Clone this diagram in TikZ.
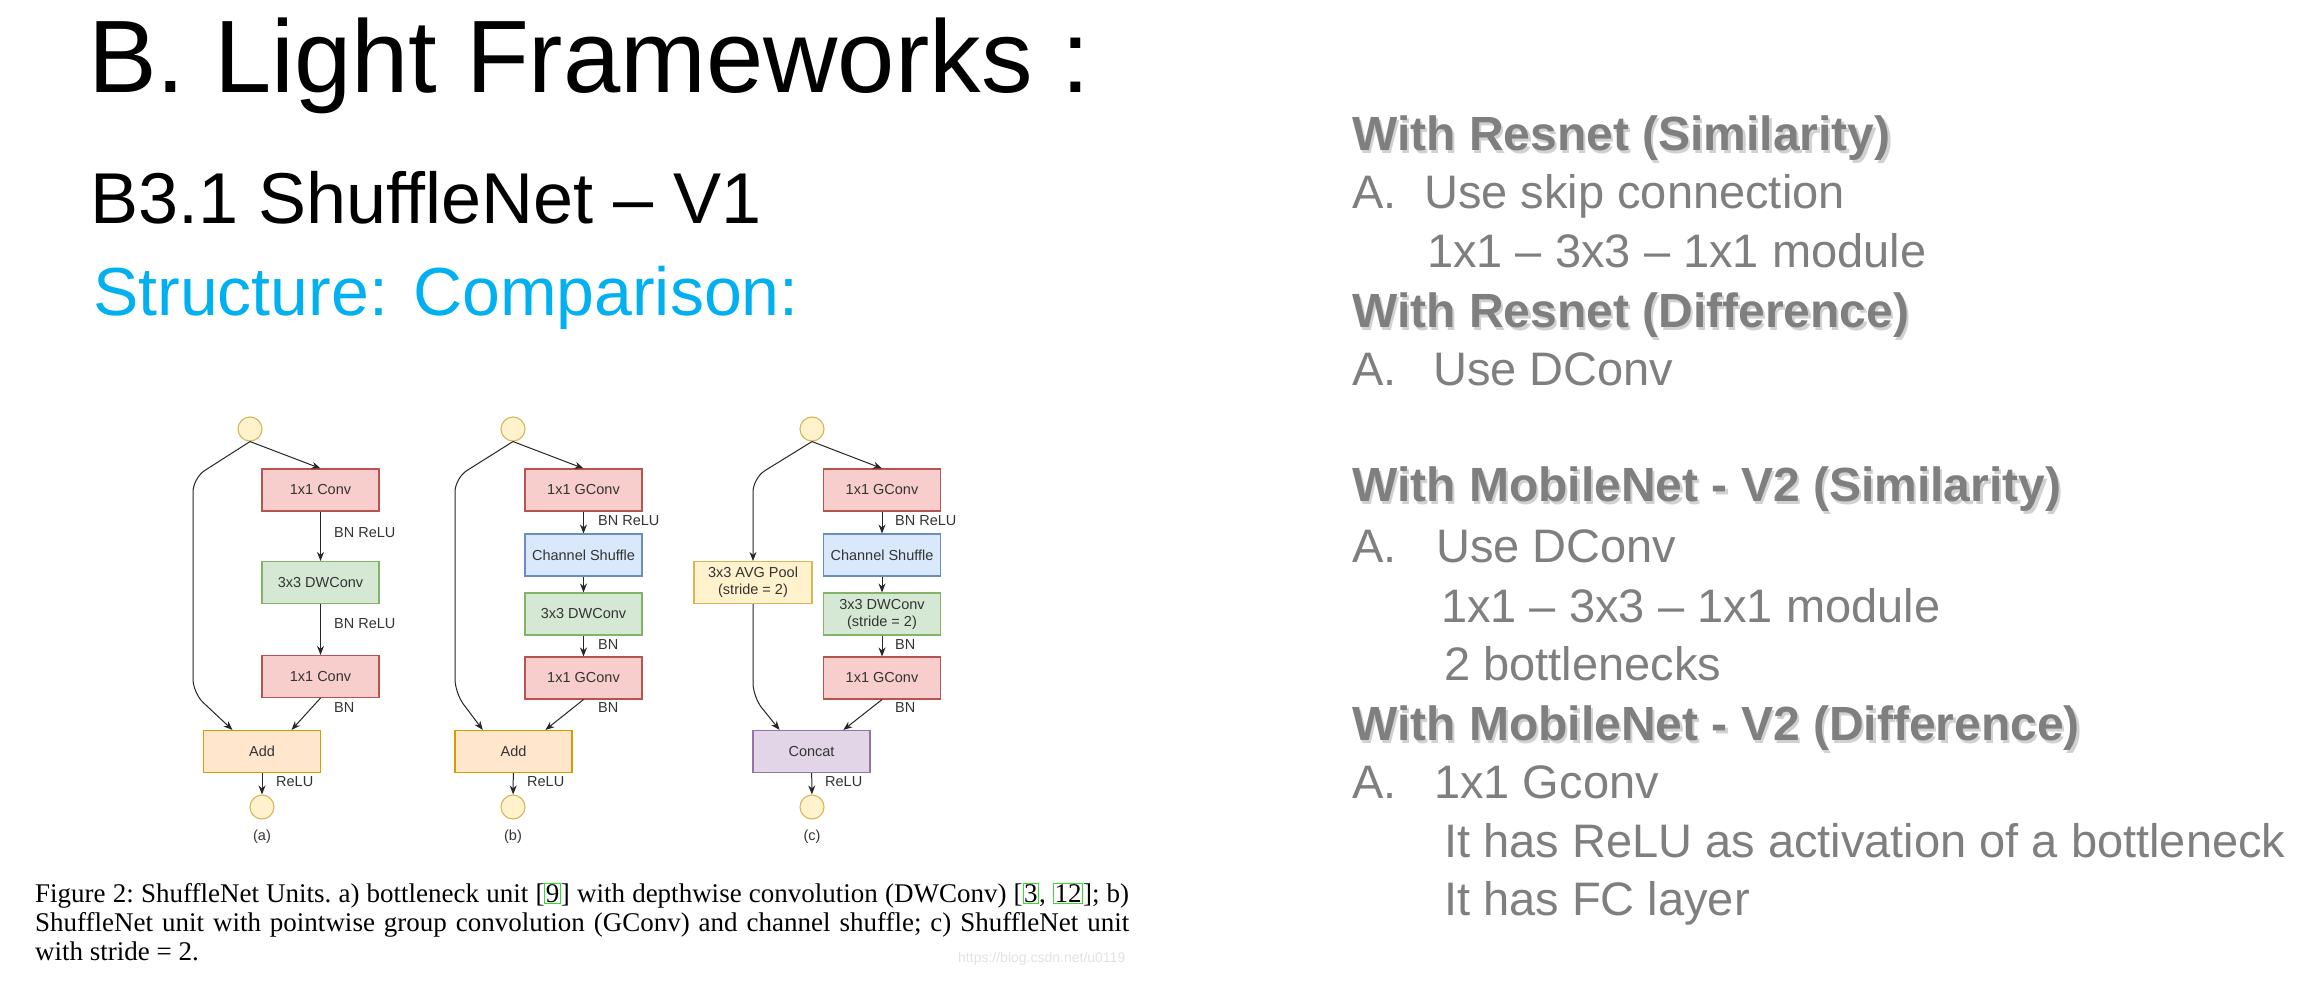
\documentclass[tikz,border=0pt]{standalone}
\usepackage{fontspec}
\usepackage{xcolor}
\usetikzlibrary{arrows.meta,calc}
\setmainfont{Liberation Sans}
\newfontfamily\capserif{Liberation Serif}
\newcommand\fsz[1]{\fontsize{#1}{#1}\selectfont}

\definecolor{cyanT}{HTML}{00B0F0}
\definecolor{greyT}{HTML}{7F7F7F}
\definecolor{txt}{HTML}{333333}
\definecolor{redF}{HTML}{F8CECC}\definecolor{redD}{HTML}{B85450}
\definecolor{grnF}{HTML}{D5E8D4}\definecolor{grnD}{HTML}{82B366}
\definecolor{bluF}{HTML}{DAE8FC}\definecolor{bluD}{HTML}{6C8EBF}
\definecolor{orgF}{HTML}{FFE6CC}\definecolor{orgD}{HTML}{D79B00}
\definecolor{yelF}{HTML}{FFF2CC}\definecolor{yelD}{HTML}{D6B656}
\definecolor{purF}{HTML}{E1D5E7}\definecolor{purD}{HTML}{9673A6}
\definecolor{citeG}{HTML}{33DD33}

% green frame round a citation number
\newcommand\citebox[1]{{\setlength\fboxsep{0.5pt}\setlength\fboxrule{1pt}\fcolorbox{citeG}{white}{#1}}}

\tikzset{
  unitbox/.style={draw, line width=1.1pt, minimum width=117pt, minimum height=42pt,
    inner sep=0pt, font=\fontsize{14.5}{17}\selectfont, text=txt, align=center},
  redbox/.style={unitbox, fill=redF, draw=redD},
  grnbox/.style={unitbox, fill=grnF, draw=grnD},
  blubox/.style={unitbox, fill=bluF, draw=bluD},
  orgbox/.style={unitbox, fill=orgF, draw=orgD},
  yelbox/.style={unitbox, fill=yelF, draw=yelD},
  purbox/.style={unitbox, fill=purF, draw=purD},
  io/.style={circle, draw=yelD, fill=yelF, line width=1.1pt, minimum size=24pt, inner sep=0pt},
  arr/.style={draw=black!85, line width=1pt, -{Stealth[length=9pt,width=7pt]}},
  lbl/.style={anchor=west, font=\fsz{14.5}, text=txt, inner sep=0pt},
  sub/.style={font=\fsz{14.5}, text=txt, inner sep=0pt},
  title/.style={anchor=base west, inner sep=0pt},
  body/.style={anchor=base west, inner sep=0pt, text=greyT, font=\fsz{47}},
  headtxt/.style={anchor=base west, inner sep=0pt, text=greyT, font=\bfseries\fsz{48}},
  headshadow/.style={anchor=base west, inner sep=0pt, text=gray!80, opacity=0.45, font=\bfseries\fsz{48}},
  capline/.style={anchor=base west, inner sep=0pt, font=\capserif\fsz{27}\frenchspacing},
}

% bold grey heading with a soft drop shadow
\newcommand\drawhead[4]{%
  \node[headshadow] at (#2+2.5,#3+3) {#4};
  \node[headtxt] (#1) at (#2,#3) {#4};}

\begin{document}
\begin{tikzpicture}[x=1pt,y=-1pt]
\useasboundingbox[fill=white] (0,0) rectangle (2319,985);

% ---------- titles ----------
\node[title, font=\fsz{103}] (t1) at (88,92) {B. Light Frameworks :};
\node[title, font=\fsz{72}] (t2) at (90,223) {B3.1 ShuffleNet -- V1};
\node[title, font=\fsz{68}, text=cyanT] (t3) at (93,315) {Structure: Comparison:};

% ---------- unit (a) ----------
\node[io] (a-in) at (250,429) {};
\node[redbox] (a-c1) at (320.5,490) {1x1 Conv};
\node[grnbox] (a-dw) at (320.5,582.5) {3x3 DWConv};
\node[redbox] (a-c2) at (320.5,676.5) {1x1 Conv};
\node[orgbox] (a-add) at (262,751.5) {Add};
\node[io] (a-out) at (262,807) {};
\node[sub] (a-cap) at (262,837) {(a)};
\coordinate (a-s1) at (193,478);
\coordinate (a-s2) at (193,693);
\draw[arr] (a-in.south) -- (a-c1.north);
\draw[arr] (a-c1) -- (a-dw);
\draw[arr] (a-dw) -- (a-c2);
\draw[arr] (a-c2.south) -- ($(a-add.north west)!0.75!(a-add.north east)$);
\draw[arr, rounded corners=14pt] (a-in.south) -- (a-s1) -- (a-s2) -- ($(a-add.north west)!0.25!(a-add.north east)$);
\draw[arr] (a-add) -- (a-out);
\node[lbl] at (334,533) {BN ReLU};
\node[lbl] at (334,624) {BN ReLU};
\node[lbl] at (334,708) {BN};
\node[lbl] at (276,782) {ReLU};

% ---------- unit (b) ----------
\node[io] (b-in) at (513,429) {};
\node[redbox] (b-g1) at (583.5,490) {1x1 GConv};
\node[blubox] (b-sh) at (583.5,555) {Channel Shuffle};
\node[grnbox] (b-dw) at (583.5,614) {3x3 DWConv};
\node[redbox] (b-g2) at (583.5,678) {1x1 GConv};
\node[orgbox] (b-add) at (513.5,751.5) {Add};
\node[io] (b-out) at (513,807) {};
\node[sub] (b-cap) at (513,837) {(b)};
\coordinate (b-s1) at (455,478);
\coordinate (b-s2) at (455,693);
\draw[arr] (b-in.south) -- (b-g1.north);
\draw[arr] (b-g1) -- (b-sh);
\draw[arr] (b-sh) -- (b-dw);
\draw[arr] (b-dw) -- (b-g2);
\draw[arr] (b-g2.south) -- ($(b-add.north west)!0.77!(b-add.north east)$);
\draw[arr, rounded corners=14pt] (b-in.south) -- (b-s1) -- (b-s2) -- ($(b-add.north west)!0.24!(b-add.north east)$);
\draw[arr] (b-add) -- (b-out);
\node[lbl] at (598,521) {BN ReLU};
\node[lbl] at (598,645) {BN};
\node[lbl] at (598,708) {BN};
\node[lbl] at (527,782) {ReLU};

% ---------- unit (c) ----------
\node[io] (c-in) at (812,429) {};
\node[redbox] (c-g1) at (882,490) {1x1 GConv};
\node[blubox] (c-sh) at (882,555) {Channel Shuffle};
\node[grnbox] (c-dw) at (882,614) {3x3 DWConv\\(stride = 2)};
\node[redbox] (c-g2) at (882,678) {1x1 GConv};
\node[yelbox, minimum width=118pt] (c-pool) at (753,582.5) {3x3 AVG Pool\\(stride = 2)};
\node[purbox] (c-cat) at (811.5,751.5) {Concat};
\node[io] (c-out) at (812,807) {};
\node[sub] (c-cap) at (812,837) {(c)};
\coordinate (c-s1) at (753,478);
\coordinate (c-s2) at (753,697);
\draw[arr] (c-in.south) -- (c-g1.north);
\draw[arr] (c-g1) -- (c-sh);
\draw[arr] (c-sh) -- (c-dw);
\draw[arr] (c-dw) -- (c-g2);
\draw[arr] (c-g2.south) -- ($(c-cat.north west)!0.77!(c-cat.north east)$);
\draw[arr, rounded corners=14pt] (c-in.south) -- (c-s1) -- (c-pool.north);
\draw[arr, rounded corners=14pt] (c-pool.south) -- (c-s2) -- ($(c-cat.north west)!0.23!(c-cat.north east)$);
\draw[arr] (c-cat) -- (c-out);
\node[lbl] at (895,521) {BN ReLU};
\node[lbl] at (895,645) {BN};
\node[lbl] at (895,708) {BN};
\node[lbl] at (825,782) {ReLU};

% ---------- figure caption ----------
\node[capline] (cap1) at (35,902) {\makebox[1094pt][s]{Figure 2: ShuffleNet Units. a) bottleneck unit [\citebox{9}] with depthwise convolution (DWConv) [\citebox{3}, \citebox{12}]; b)}};
\node[capline] (cap2) at (35,931) {\makebox[1094pt][s]{ShuffleNet unit with pointwise group convolution (GConv) and channel shuffle; c) ShuffleNet unit}};
\node[capline] (cap3) at (35,960) {with stride = 2.};
\node[anchor=base west, inner sep=0pt, font=\fsz{14}, text=gray!22] (wm) at (958,962) {https://blog.csdn.net/u0119};

% ---------- comparison notes ----------
\drawhead{h1}{1352}{150}{With Resnet (Similarity)}
\node[body] (m1) at (1352,208) {A.};
\node[body] (l1) at (1424,208) {Use skip connection};
\node[body] (l2) at (1427,267) {1x1 -- 3x3 -- 1x1 module};
\drawhead{h2}{1352}{327}{With Resnet (Difference)}
\node[body] (m2) at (1352,385) {A.};
\node[body] (l3) at (1433,385) {Use DConv};

\drawhead{h3}{1352}{501}{With MobileNet - V2 (Similarity)}
\node[body] (m3) at (1352,562) {A.};
\node[body] (l4) at (1436,562) {Use DConv};
\node[body] (l5) at (1441,622) {1x1 -- 3x3 -- 1x1 module};
\node[body] (l6) at (1444,680) {2 bottlenecks};
\drawhead{h4}{1352}{740}{With MobileNet - V2 (Difference)}
\node[body] (m4) at (1352,798) {A.};
\node[body] (l7) at (1434,798) {1x1 Gconv};
\node[body] (l8) at (1444,857) {It has ReLU as activation of a bottleneck};
\node[body] (l9) at (1444,915) {It has FC layer};
\end{tikzpicture}
\end{document}
